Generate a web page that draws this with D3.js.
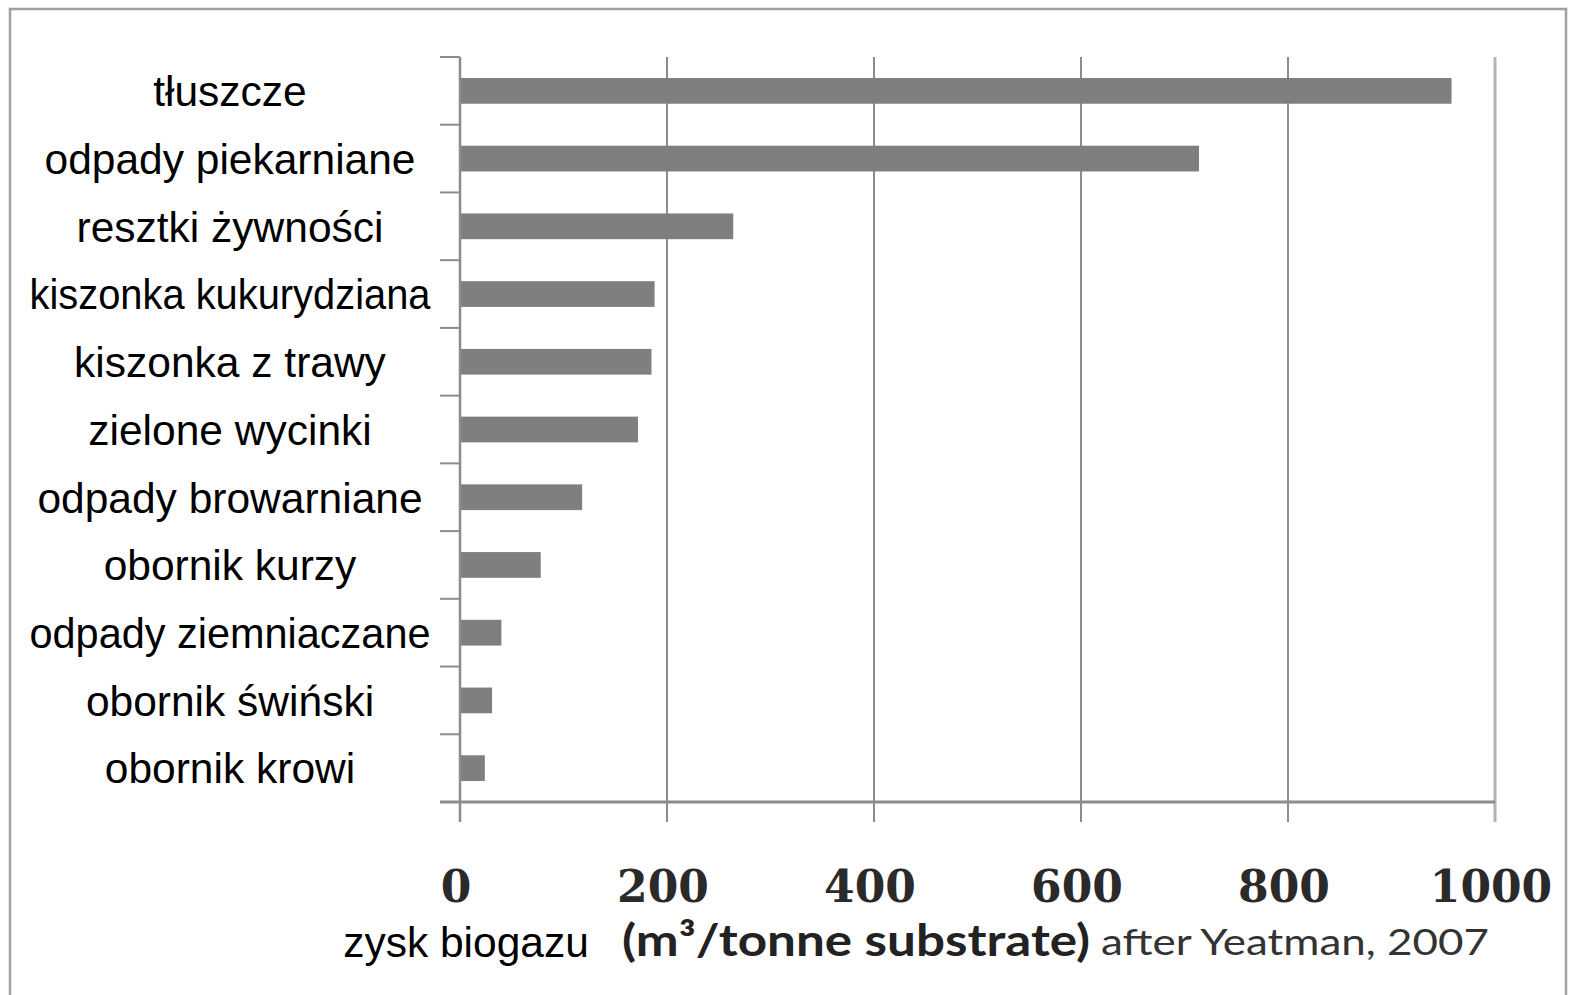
<!DOCTYPE html>
<html>
<head>
<meta charset="utf-8">
<script src="https://cdn.jsdelivr.net/npm/d3@7"></script>
<style>
  body { margin: 0; background: #fff; }
</style>
</head>
<body>
<svg id="chart"></svg>
<script>
// data (m3 biogas per tonne of substrate)
let categories = ['tłuszcze', 'odpady piekarniane', 'resztki żywności', 'kiszonka kukurydziana',
  'kiszonka z trawy', 'zielone wycinki', 'odpady browarniane', 'obornik kurzy',
  'odpady ziemniaczane', 'obornik świński', 'obornik krowi']
let values = [958, 714, 264, 188, 185, 172, 118, 78, 40, 31, 24]
let ticks = [0, 200, 400, 600, 800, 1000]
let axisTitle = 'zysk biogazu'
let unitText = '(m³/tonne substrate)'
let sourceText = 'after Yeatman, 2007'

let width = 1571
let height = 995
let svg = d3.select('#chart')
  .attr('width', width)
  .attr('height', height)

// outer frame
svg.append('rect')
  .attr('x', 10).attr('y', 9)
  .attr('width', 1556).attr('height', 1000)
  .attr('fill', 'none')
  .attr('stroke', '#a0a0a0')
  .attr('stroke-width', 2.5)

let plotLeft = 460, plotRight = 1495, plotTop = 57, plotBottom = 802

let x = d3.scaleLinear().domain([0, 1000]).range([plotLeft, plotRight])
let y = d3.scaleBand().domain(categories).range([plotTop, plotBottom]).paddingInner(0.62).paddingOuter(0.31)

// vertical gridlines, running a little past the base line
svg.append('g')
  .selectAll('line')
  .data(ticks.slice(1))
  .enter()
  .append('line')
  .attr('x1', (d) => x(d)).attr('x2', (d) => x(d))
  .attr('y1', plotTop).attr('y2', plotBottom + 20)
  .attr('stroke', (d) => d === 1000 ? '#b4b4b4' : '#8c8c8c')
  .attr('stroke-width', (d) => d === 1000 ? 3 : 2)

// bars
svg.append('g')
  .selectAll('rect')
  .data(values)
  .enter()
  .append('rect')
  .attr('x', x(0))
  .attr('y', (d, i) => y(categories[i]))
  .attr('width', (d) => x(d) - x(0))
  .attr('height', y.bandwidth())
  .attr('fill', '#7f7f7f')

// category axis with ticks at the band edges
let step = y.step()
let edges = d3.range(categories.length + 1).map((i) => plotTop + i * step)
svg.append('line')
  .attr('x1', plotLeft).attr('x2', plotLeft)
  .attr('y1', plotTop).attr('y2', plotBottom + 20)
  .attr('stroke', '#8c8c8c').attr('stroke-width', 2.5)
svg.append('g')
  .selectAll('line')
  .data(edges)
  .enter()
  .append('line')
  .attr('x1', plotLeft - 20).attr('x2', plotLeft)
  .attr('y1', (d) => d).attr('y2', (d) => d)
  .attr('stroke', '#8c8c8c').attr('stroke-width', 2)

// base line
svg.append('line')
  .attr('x1', plotLeft - 20).attr('x2', plotRight)
  .attr('y1', plotBottom).attr('y2', plotBottom)
  .attr('stroke', '#8c8c8c').attr('stroke-width', 3)

// category labels; the widest one is squeezed to fit left of the axis
svg.append('g')
  .selectAll('text')
  .data(categories)
  .enter()
  .append('text')
  .attr('x', 230)
  .attr('y', (d) => y(d) + y.bandwidth() / 2)
  .attr('dy', '0.36em')
  .attr('text-anchor', 'middle')
  .attr('font-family', 'Liberation Sans, Arial, sans-serif')
  .attr('font-size', 42.5)
  .attr('fill', '#000')
  .text((d) => d)
  .each(function () {
    if (this.getComputedTextLength() > 402) {
      d3.select(this).attr('textLength', 401).attr('lengthAdjust', 'spacingAndGlyphs')
    }
  })

// value tick labels
svg.append('g')
  .selectAll('text')
  .data(ticks)
  .enter()
  .append('text')
  .attr('x', (d) => x(d) - 4)
  .attr('y', 902)
  .attr('text-anchor', 'middle')
  .attr('font-family', 'DejaVu Serif, serif')
  .attr('font-weight', 'bold')
  .attr('font-size', 44)
  .attr('fill', '#2a2a2a')
  .text((d) => d)

// axis title pieces
svg.append('text')
  .attr('x', 466).attr('y', 957)
  .attr('text-anchor', 'middle')
  .attr('font-family', 'Liberation Sans, Arial, sans-serif')
  .attr('font-size', 42.5)
  .attr('fill', '#000')
  .text(axisTitle)
svg.append('text')
  .attr('x', 622).attr('y', 956)
  .attr('font-family', 'Lato, sans-serif')
  .attr('font-weight', 'bold')
  .attr('font-size', 44)
  .attr('textLength', 468)
  .attr('lengthAdjust', 'spacingAndGlyphs')
  .attr('fill', '#222')
  .text(unitText)
svg.append('text')
  .attr('x', 1101).attr('y', 955)
  .attr('font-family', 'Lato, sans-serif')
  .attr('font-size', 37)
  .attr('textLength', 388)
  .attr('lengthAdjust', 'spacingAndGlyphs')
  .attr('fill', '#333')
  .text(sourceText)
</script>
</body>
</html>
